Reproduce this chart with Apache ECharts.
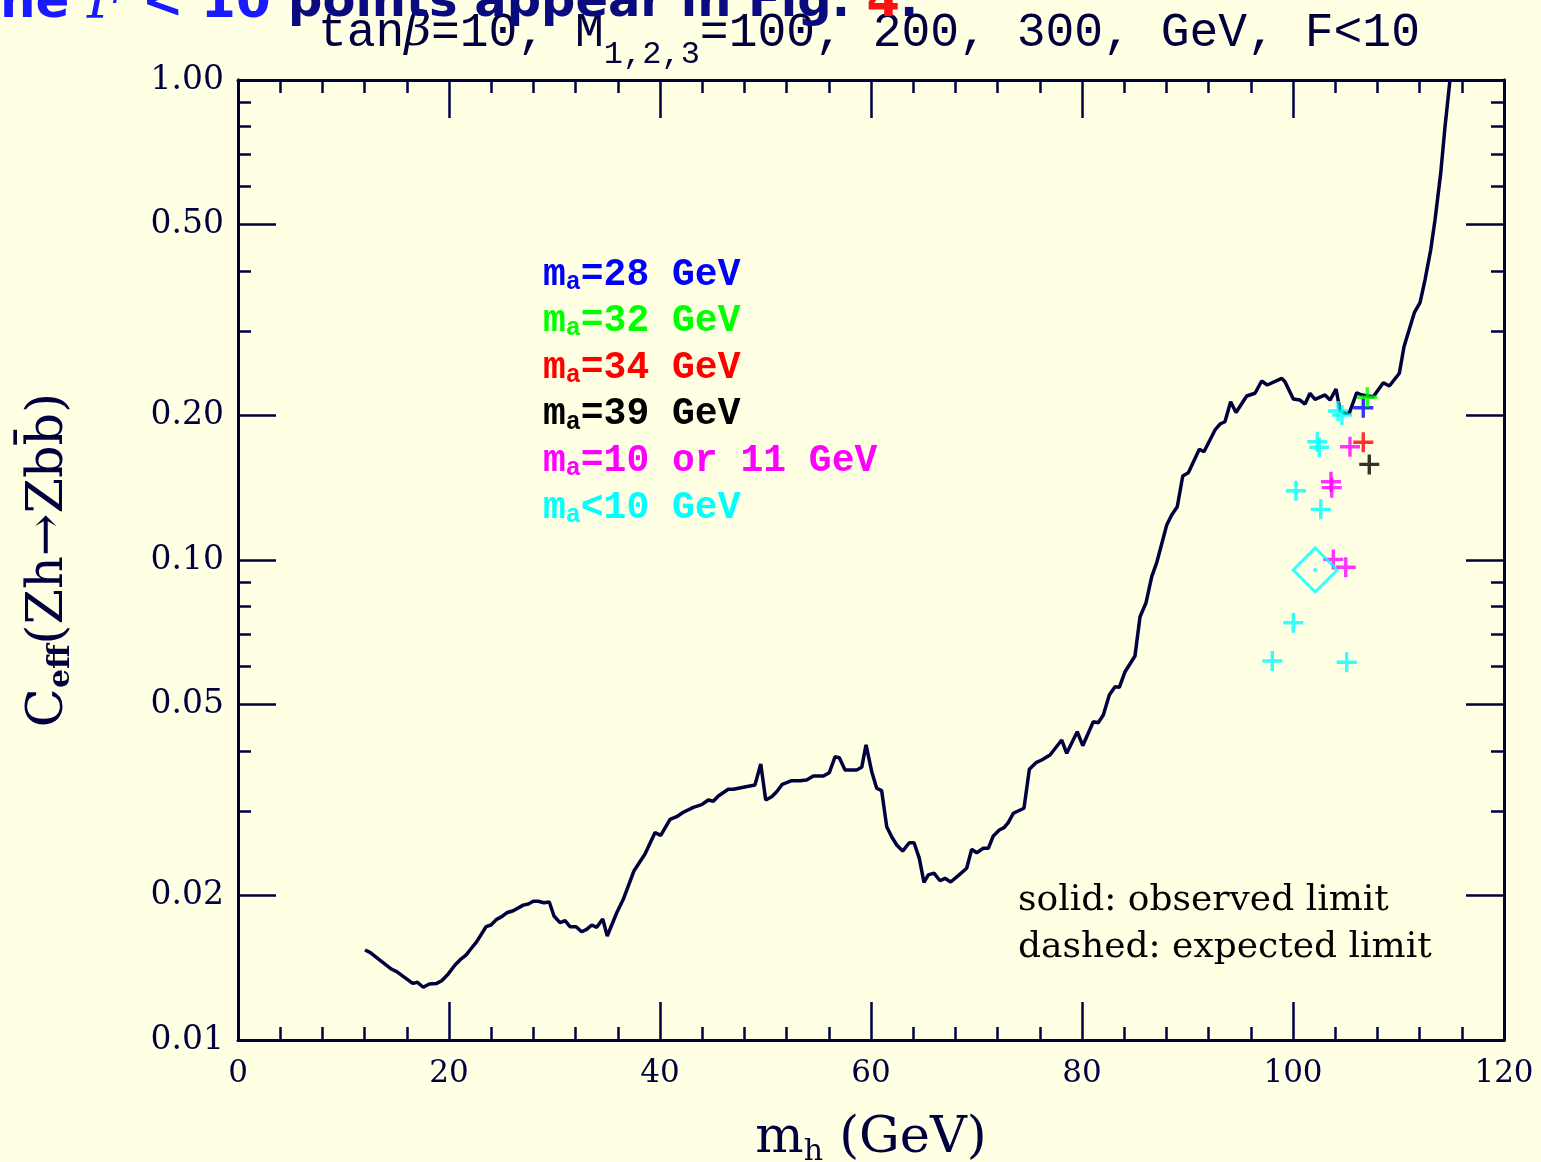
<!DOCTYPE html>
<html><head><meta charset="utf-8">
<script src="https://cdn.jsdelivr.net/npm/echarts@6/dist/echarts.min.js"></script>
<style>html,body{margin:0;padding:0;background:#ffffe4;}#c{width:1541px;height:1162px;}</style>
</head><body><div id="c"></div>
<script>
// ---- data ----
const curveMh = [12.04,12.51,14.57,15.04,16.56,17.0,17.56,18.13,18.83,19.31,
19.93,20.57,21.04,21.61,21.99,22.63,23.51,23.98,24.52,25.0,
25.47,26.09,27.04,27.52,27.99,28.46,29.0,29.51,29.95,30.52,
31.0,31.47,32.04,32.58,33.05,33.53,34.0,34.57,35.0,35.9,
36.52,37.54,38.58,39.53,40.07,40.95,41.58,42.21,43.16,43.95,
44.58,45.05,45.53,46.47,46.95,49.0,49.55,50.02,50.59,51.06,
51.59,52.48,53.27,53.9,54.53,55.48,56.05,56.59,57.0,57.54,
58.64,59.12,59.53,60.07,60.54,61.01,61.49,61.96,62.44,63.0,
63.63,64.08,64.58,65.02,65.43,65.97,66.54,67.01,67.55,68.27,
69.07,69.54,70.02,70.64,71.12,71.59,72.16,72.61,73.01,73.49,
74.5,75.01,75.64,76.18,76.97,78.08,78.55,79.55,80.07,81.07,
81.54,82.02,82.59,83.13,83.54,84.08,85.02,85.5,86.07,86.61,
87.08,88.03,88.5,89.03,89.55,90.08,91.12,91.56,92.61,93.08,
93.55,94.09,94.6,95.61,96.4,97.03,97.56,98.93,99.24,100.03,
100.66,101.14,101.61,102.09,103.03,103.51,104.08,104.45,104.93,105.33,
106.04,106.51,107.61,108.56,109.13,110.08,110.52,111.5,112.04,112.51,
113.05,113.46,114.0,114.41,114.88];
const curveCeff = [0.0154,0.01523,0.01404,0.01388,0.01312,0.01319,0.01288,0.01308,0.01312,0.01329,
0.01373,0.01433,0.01468,0.01503,0.0154,0.01603,0.01722,0.01736,0.01784,0.01807,
0.01841,0.01859,0.0191,0.0192,0.01945,0.01945,0.01932,0.01939,0.01813,0.01756,
0.01772,0.01722,0.01722,0.01681,0.017,0.01736,0.01717,0.01787,0.01647,0.01841,
0.01964,0.02253,0.0244,0.02705,0.02669,0.02883,0.02919,0.02981,0.03053,0.03092,
0.03162,0.03143,0.03224,0.0333,0.0333,0.03398,0.03758,0.03162,0.03213,0.03291,
0.0341,0.03469,0.03469,0.03481,0.03548,0.03548,0.03605,0.03892,0.03873,0.03652,
0.03652,0.03699,0.04118,0.03622,0.03346,0.03307,0.02781,0.02651,0.02548,0.02475,
0.02576,0.02576,0.0239,0.0213,0.02208,0.02226,0.02147,0.02172,0.02134,0.022,
0.02279,0.02496,0.02456,0.02508,0.02508,0.02661,0.02738,0.02769,0.02836,0.02967,
0.03039,0.03664,0.03782,0.03831,0.03925,0.04217,0.03956,0.04388,0.04103,0.04603,
0.04581,0.04754,0.05233,0.05445,0.05429,0.05852,0.0631,0.07617,0.08147,0.09231,
0.09871,0.1183,0.1241,0.1291,0.1496,0.152,0.1701,0.1681,0.1866,0.192,
0.1941,0.2137,0.2029,0.2196,0.2225,0.236,0.2315,0.239,0.2352,0.2165,
0.2154,0.2113,0.2225,0.2162,0.2207,0.2154,0.2271,0.2054,0.2021,0.2021,
0.2231,0.2207,0.2189,0.2341,0.2304,0.2449,0.2782,0.3275,0.3436,0.3831,
0.4423,0.5109,0.6391,0.7993,1.0];

const cyanMh   = [104.27,104.64,102.30,102.49,100.28,102.63,100.03,98.04,105.09];
const cyanCeff = [0.2044,0.2005,0.1764,0.1717,0.1394,0.1275,0.07401,0.0616,0.06122];
const magentaMh   = [105.40,103.60,103.67,103.82,105.0];
const magentaCeff = [0.1722,0.1456,0.1415,0.1003,0.09656];
const redMh = [106.66], redCeff = [0.1759];
const blackMh = [107.23], blackCeff = [0.1582];
const blueMh = [106.66], blueCeff = [0.2076];
const greenMh = [107.04], greenCeff = [0.2183];
const diamondMh = [102.11], diamondCeff = [0.09532];

const xTicks = [0,20,40,60,80,100,120];
const yMajorTicks = [0.01,0.02,0.05,0.1,0.2,0.5,1];
const yTickLabels = ['0.01','0.02','0.05','0.10','0.20','0.50','1.00'];
const yMinorTicks = [0.03,0.04,0.06,0.07,0.08,0.09,0.3,0.4,0.6,0.7,0.8,0.9];

const legendLines = [
  {num:'=28 GeV', color:'#0000ff'},
  {num:'=32 GeV', color:'#00ff00'},
  {num:'=34 GeV', color:'#ff0000'},
  {num:'=39 GeV', color:'#000000'},
  {num:'=10 or 11 GeV', color:'#ff00ff'},
  {num:'<10 GeV', color:'#00ffff'}
];

// ---- chart ----
const navy = '#00003f';
const serif = 'DejaVu Serif';
const zip = (a,b) => a.map((v,i)=>[v,b[i]]);
const crossPath = 'path://M-1.7,-10L1.7,-10L1.7,10L-1.7,10ZM-10,-1.7L10,-1.7L10,1.7L-10,1.7Z';

function yLabelFmt(v){
  let best=0, bd=1e9;
  yMajorTicks.forEach((t,i)=>{const d=Math.abs(Math.log10(t)-Math.log10(v)); if(d<bd){bd=d;best=i;}});
  return yTickLabels[best];
}
function yAx(pos, ticks, len, showLabel, withName){
  const a = {type:'log', logBase:10, min:0.01, max:1, position:pos, gridIndex:0,
    axisLine:{show:true, onZero:false, lineStyle:{color:navy,width:3}},
    axisTick:{show:true, inside:true, length:len, customValues:ticks, lineStyle:{color:navy,width:2.5}},
    axisLabel:{show:showLabel, customValues:ticks, formatter:yLabelFmt, color:navy,
      fontFamily:serif, fontSize:33, margin:14},
    splitLine:{show:false}, minorTick:{show:false}, minorSplitLine:{show:false}};
  if(withName){
    a.name = '{c|C}{s|eff}{c|(Zh\u2192Zbb\u0304)}';
    a.nameLocation = 'middle';
    a.nameRotate = 90;
    a.nameGap = 162;
    a.nameTextStyle = {color:navy, rich:{
      c:{fontFamily:serif, fontSize:51, color:navy, verticalAlign:'middle', lineHeight:54},
      s:{fontFamily:serif, fontSize:30, color:navy, fontWeight:'bold', verticalAlign:'bottom', lineHeight:40}}};
  }
  return a;
}
function xAx(pos, showLabel, withName){
  const a = {type:'value', min:0, max:120, interval:20, position:pos, gridIndex:0,
    axisLine:{show:true, onZero:false, lineStyle:{color:navy,width:3}},
    axisTick:{show:true, inside:true, length:38, lineStyle:{color:navy,width:2.5}},
    minorTick:{show:true, splitNumber:5, length:13, lineStyle:{color:navy,width:2.5}},
    axisLabel:{show:showLabel, color:navy, fontFamily:serif, fontSize:31, margin:18,
      formatter: v => String(xTicks[xTicks.indexOf(v)])},
    splitLine:{show:false}, minorSplitLine:{show:false}};
  if(withName){
    a.name = '{m|m}{s|h}{m| (GeV)}';
    a.nameLocation = 'middle';
    a.nameGap = 71;
    a.nameTextStyle = {rich:{
      m:{fontFamily:serif, fontSize:51, color:navy, verticalAlign:'middle', lineHeight:56},
      s:{fontFamily:serif, fontSize:30, color:navy, verticalAlign:'bottom', lineHeight:30}}};
  }
  return a;
}

const legendGraphics = legendLines.map((l,i)=>({
  type:'text', left:543, top:256 + i*46.6, z:10,
  style:{text:'{m|m}{s|a}{m|'+l.num+'}', fill:l.color,
    rich:{m:{fontFamily:'Liberation Mono', fontWeight:'bold', fontSize:38, fill:l.color, verticalAlign:'middle', lineHeight:40},
          s:{fontFamily:'Liberation Mono', fontWeight:'bold', fontSize:25, fill:l.color, verticalAlign:'bottom', lineHeight:24}}}
}));

const chart = echarts.init(document.getElementById('c'), null, {renderer:'canvas'});
chart.setOption({
  animation:false,
  backgroundColor:'#ffffe4',
  grid:{left:238, right:37, top:80, bottom:122, containLabel:false, outerBoundsMode:'none'},
  title:{left:313, top:-10, text:'{t|tan}{b|\u03b2}{t|=10, M}{s|1,2,3}{t|=100, 200, 300, GeV, F<10}',
    textStyle:{fontWeight:'normal', rich:{
      t:{fontFamily:'Liberation Mono', fontWeight:'normal', fontSize:48, color:navy, verticalAlign:'middle', lineHeight:76},
      b:{fontFamily:serif, fontStyle:'italic', fontWeight:'normal', fontSize:46, color:navy, verticalAlign:'middle', lineHeight:76},
      s:{fontFamily:'Liberation Mono', fontWeight:'normal', fontSize:32, color:navy, verticalAlign:'bottom', lineHeight:38}}}},
  xAxis:[xAx('bottom', true, true), xAx('top', false, false)],
  yAxis:[yAx('left', yMajorTicks, 38, true, true), yAx('left', yMinorTicks, 13, false, false),
         yAx('right', yMajorTicks, 38, false, false), yAx('right', yMinorTicks, 13, false, false)],
  graphic:[
    {type:'text', left:0, top:-23, z:10, style:{
      text:'{b|ne }{f|F}{b| < 10 }{n|points appear in Fig. }{r|4}{n|.}',
      rich:{b:{fontFamily:'DejaVu Sans', fontWeight:'bold', fontSize:50, fill:'#1a1aff'},
            f:{fontFamily:'DejaVu Serif', fontStyle:'italic', fontSize:54, fill:'#1a1aff'},
            n:{fontFamily:'DejaVu Sans', fontWeight:'bold', fontSize:48, fill:'#0b0b80'},
            r:{fontFamily:'DejaVu Sans', fontWeight:'bold', fontSize:48, fill:'#ff1010'}}}},
    ...legendGraphics,
    {type:'text', left:1018, top:883, z:10, style:{text:'solid: observed limit', fill:'#000', font:'36px "DejaVu Serif"'}},
    {type:'text', left:1018, top:930, z:10, style:{text:'dashed: expected limit', fill:'#000', font:'36px "DejaVu Serif"'}}
  ],
  series:[
    {type:'line', name:'observed', data:zip(curveMh,curveCeff), showSymbol:false, symbol:'none',
      lineStyle:{color:navy,width:3.5}, clip:false, z:2},
    {type:'scatter', data:zip(cyanMh,cyanCeff), symbol:crossPath, symbolSize:20, itemStyle:{color:'#00ffff'}, z:3},
    {type:'scatter', data:zip(magentaMh,magentaCeff), symbol:crossPath, symbolSize:20, itemStyle:{color:'#ff00ff'}, z:3},
    {type:'scatter', data:zip(redMh,redCeff), symbol:crossPath, symbolSize:20, itemStyle:{color:'#ff0000'}, z:3},
    {type:'scatter', data:zip(blackMh,blackCeff), symbol:crossPath, symbolSize:20, itemStyle:{color:'#000000'}, z:3},
    {type:'scatter', data:zip(blueMh,blueCeff), symbol:crossPath, symbolSize:20, itemStyle:{color:'#0000ff'}, z:3},
    {type:'scatter', data:zip(greenMh,greenCeff), symbol:crossPath, symbolSize:20, itemStyle:{color:'#00ff00'}, z:3},
    {type:'scatter', data:zip(diamondMh,diamondCeff), symbol:'diamond', symbolSize:44,
      itemStyle:{color:'rgba(0,0,0,0)', borderColor:'#00ffff', borderWidth:3}, z:3},
    {type:'scatter', data:zip(diamondMh,diamondCeff), symbol:'circle', symbolSize:4, itemStyle:{color:'#00ffff'}, z:3}
  ]
});
</script></body></html>
